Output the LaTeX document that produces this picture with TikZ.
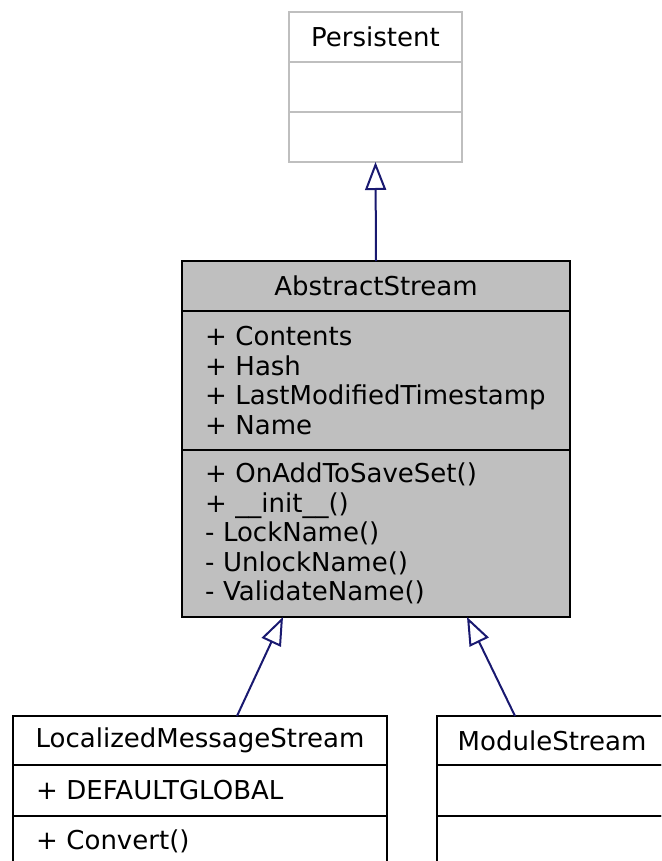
\documentclass[tikz,border=0pt]{standalone}
\usepackage{fontspec}
\setmainfont{DejaVu Sans}
\usetikzlibrary{positioning,arrows.meta}
\definecolor{edgeblue}{HTML}{191970}
\definecolor{boxgray}{HTML}{BFBFBF}
\tikzset{
	part/.style={draw, line width=2pt, outer sep=0pt, inner sep=0pt, font=\fontsize{26}{29.5}\selectfont},
	cname/.style={part, align=center},
	members/.style={part, align=left, inner xsep=23pt},
	ghost/.style={draw=boxgray},
	inherit/.style={draw=edgeblue, line width=2pt, -{Triangle[open, length=28pt, width=21pt]}}
}

\begin{document}
\begin{tikzpicture}[x=1pt, y=-1pt]

	\useasboundingbox (0,0) rectangle (661,861);
	\clip (0,0) rectangle (661,861);

	% Persistent
	\node[cname, ghost, minimum width=173pt, minimum height=50pt] (pers-name) at (375.5,37) {Persistent};
	\node[part, ghost, minimum width=173pt, minimum height=50pt, below=0pt of pers-name] (pers-attr) {};
	\node[part, ghost, minimum width=173pt, minimum height=50pt, below=0pt of pers-attr] (pers-meth) {};

	% AbstractStream
	\node[cname, fill=boxgray, minimum width=388pt, minimum height=50pt] (as-name) at (376,286) {AbstractStream};
	\node[members, fill=boxgray, text width=342pt, minimum height=139pt, below=0pt of as-name] (as-attr) {+~Contents\\+~Hash\\+~LastModifiedTimestamp\\+~Name};
	\node[members, fill=boxgray, text width=342pt, minimum height=167pt, below=0pt of as-attr] (as-meth) {+~OnAddToSaveSet()\\+~\_\_init\_\_()\\-~LockName()\\-~UnlockName()\\-~ValidateName()};

	% LocalizedMessageStream
	\node[cname, minimum width=374pt, minimum height=49pt] (lms-name) at (200,740.5) {LocalizedMessageStream};
	\node[members, text width=328pt, minimum height=51pt, below=0pt of lms-name] (lms-attr) {+~DEFAULTGLOBAL};
	\node[members, text width=328pt, minimum height=50pt, below=0pt of lms-attr] (lms-meth) {+~Convert()};

	% ModuleStream
	\node[cname, minimum width=230pt, minimum height=49pt] (ms-name) at (552,740.5) {ModuleStream};
	\node[part, minimum width=230pt, minimum height=51pt, below=0pt of ms-name] (ms-attr) {};
	\node[part, minimum width=230pt, minimum height=50pt, below=0pt of ms-attr] (ms-meth) {};

	\draw[inherit] (as-name.north) -- (pers-meth.south);
	\draw[inherit] ([xshift=37pt]lms-name.north) -- ([xshift=-93pt]as-meth.south);
	\draw[inherit] ([xshift=-37pt]ms-name.north) -- ([xshift=91pt]as-meth.south);

\end{tikzpicture}
\end{document}
